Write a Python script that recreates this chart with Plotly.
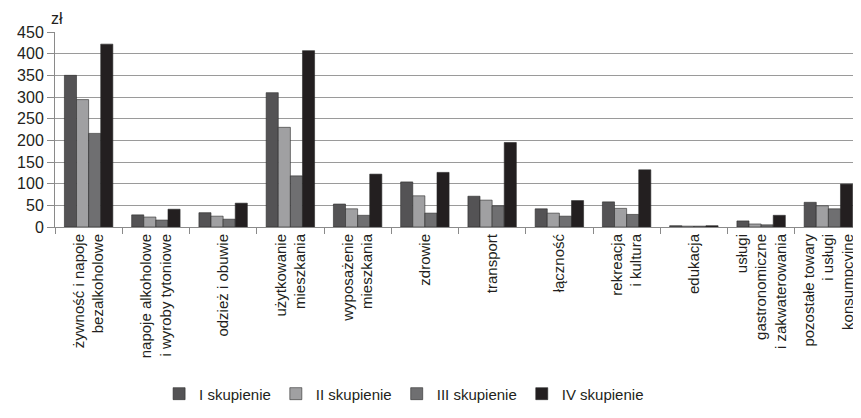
import plotly.graph_objects as go

categories = [
    "żywność i napoje<br>bezalkoholowe",
    "napoje alkoholowe<br>i wyroby tytoniowe",
    "odzież i obuwie",
    "użytkowanie<br>mieszkania",
    "wyposażenie<br>mieszkania",
    "zdrowie",
    "transport",
    "łączność",
    "rekreacja<br>i kultura",
    "edukacja",
    "usługi<br>gastronomiczne<br>i zakwaterowania",
    "pozostałe towary<br>i usługi<br>konsumpcyjne",
]
series_names = ["I skupienie", "II skupienie", "III skupienie", "IV skupienie"]
s1 = [350, 28, 33, 310, 53, 104, 71, 42, 58, 3, 14, 57]
s2 = [294, 23, 25, 230, 42, 72, 62, 32, 43, 2, 7, 49]
s3 = [216, 16, 18, 118, 27, 32, 49, 25, 29, 2, 5, 42]
s4 = [422, 41, 55, 407, 122, 126, 195, 61, 132, 3, 27, 99]
y_ticks = [0, 50, 100, 150, 200, 250, 300, 350, 400, 450]

colors = ["#545355", "#a0a0a2", "#6f6f71", "#231f20"]
font_family = "Liberation Sans, Arial, sans-serif"
text_color = "#231f20"

fig = go.Figure()
for name, vals, col in zip(series_names, [s1, s2, s3, s4], colors):
    fig.add_trace(go.Bar(
        x=categories, y=vals, name=name,
        marker=dict(color=col, line=dict(color="#2a2a2a", width=0.6)),
    ))

fig.update_layout(
    width=861, height=418,
    margin=dict(l=47, r=7, t=24, b=199),
    paper_bgcolor="white", plot_bgcolor="white",
    barmode="group", bargap=0.28, bargroupgap=0,
    font=dict(family=font_family, color=text_color, size=14),
    showlegend=True,
    legend=dict(
        orientation="h", x=0.129, xanchor="left", y=-0.856, yanchor="middle",
        font=dict(size=15, color=text_color), bgcolor="rgba(0,0,0,0)",
    ),
    annotations=[dict(
        text="zł", xref="paper", yref="paper", x=-0.008, y=1.067,
        xanchor="left", yanchor="middle", showarrow=False,
        font=dict(size=16, color=text_color, family=font_family),
    )],
)
fig.update_xaxes(
    tickangle=-90, tickson="boundaries", ticks="outside", ticklen=6,
    tickcolor="#8a8a8a", showline=True, linecolor="#8a8a8a", linewidth=1,
    showgrid=False, tickfont=dict(size=15, color=text_color),
    automargin=False,
)
fig.update_yaxes(
    range=[0, 450], tickvals=y_ticks, ticks="outside", ticklen=7,
    tickcolor="#8a8a8a", showline=True, linecolor="#8a8a8a", linewidth=1,
    showgrid=True, gridcolor="#9a9a9a", gridwidth=1, zeroline=False,
    tickfont=dict(size=16, color=text_color), automargin=False,
)

fig.write_html("out.html")
